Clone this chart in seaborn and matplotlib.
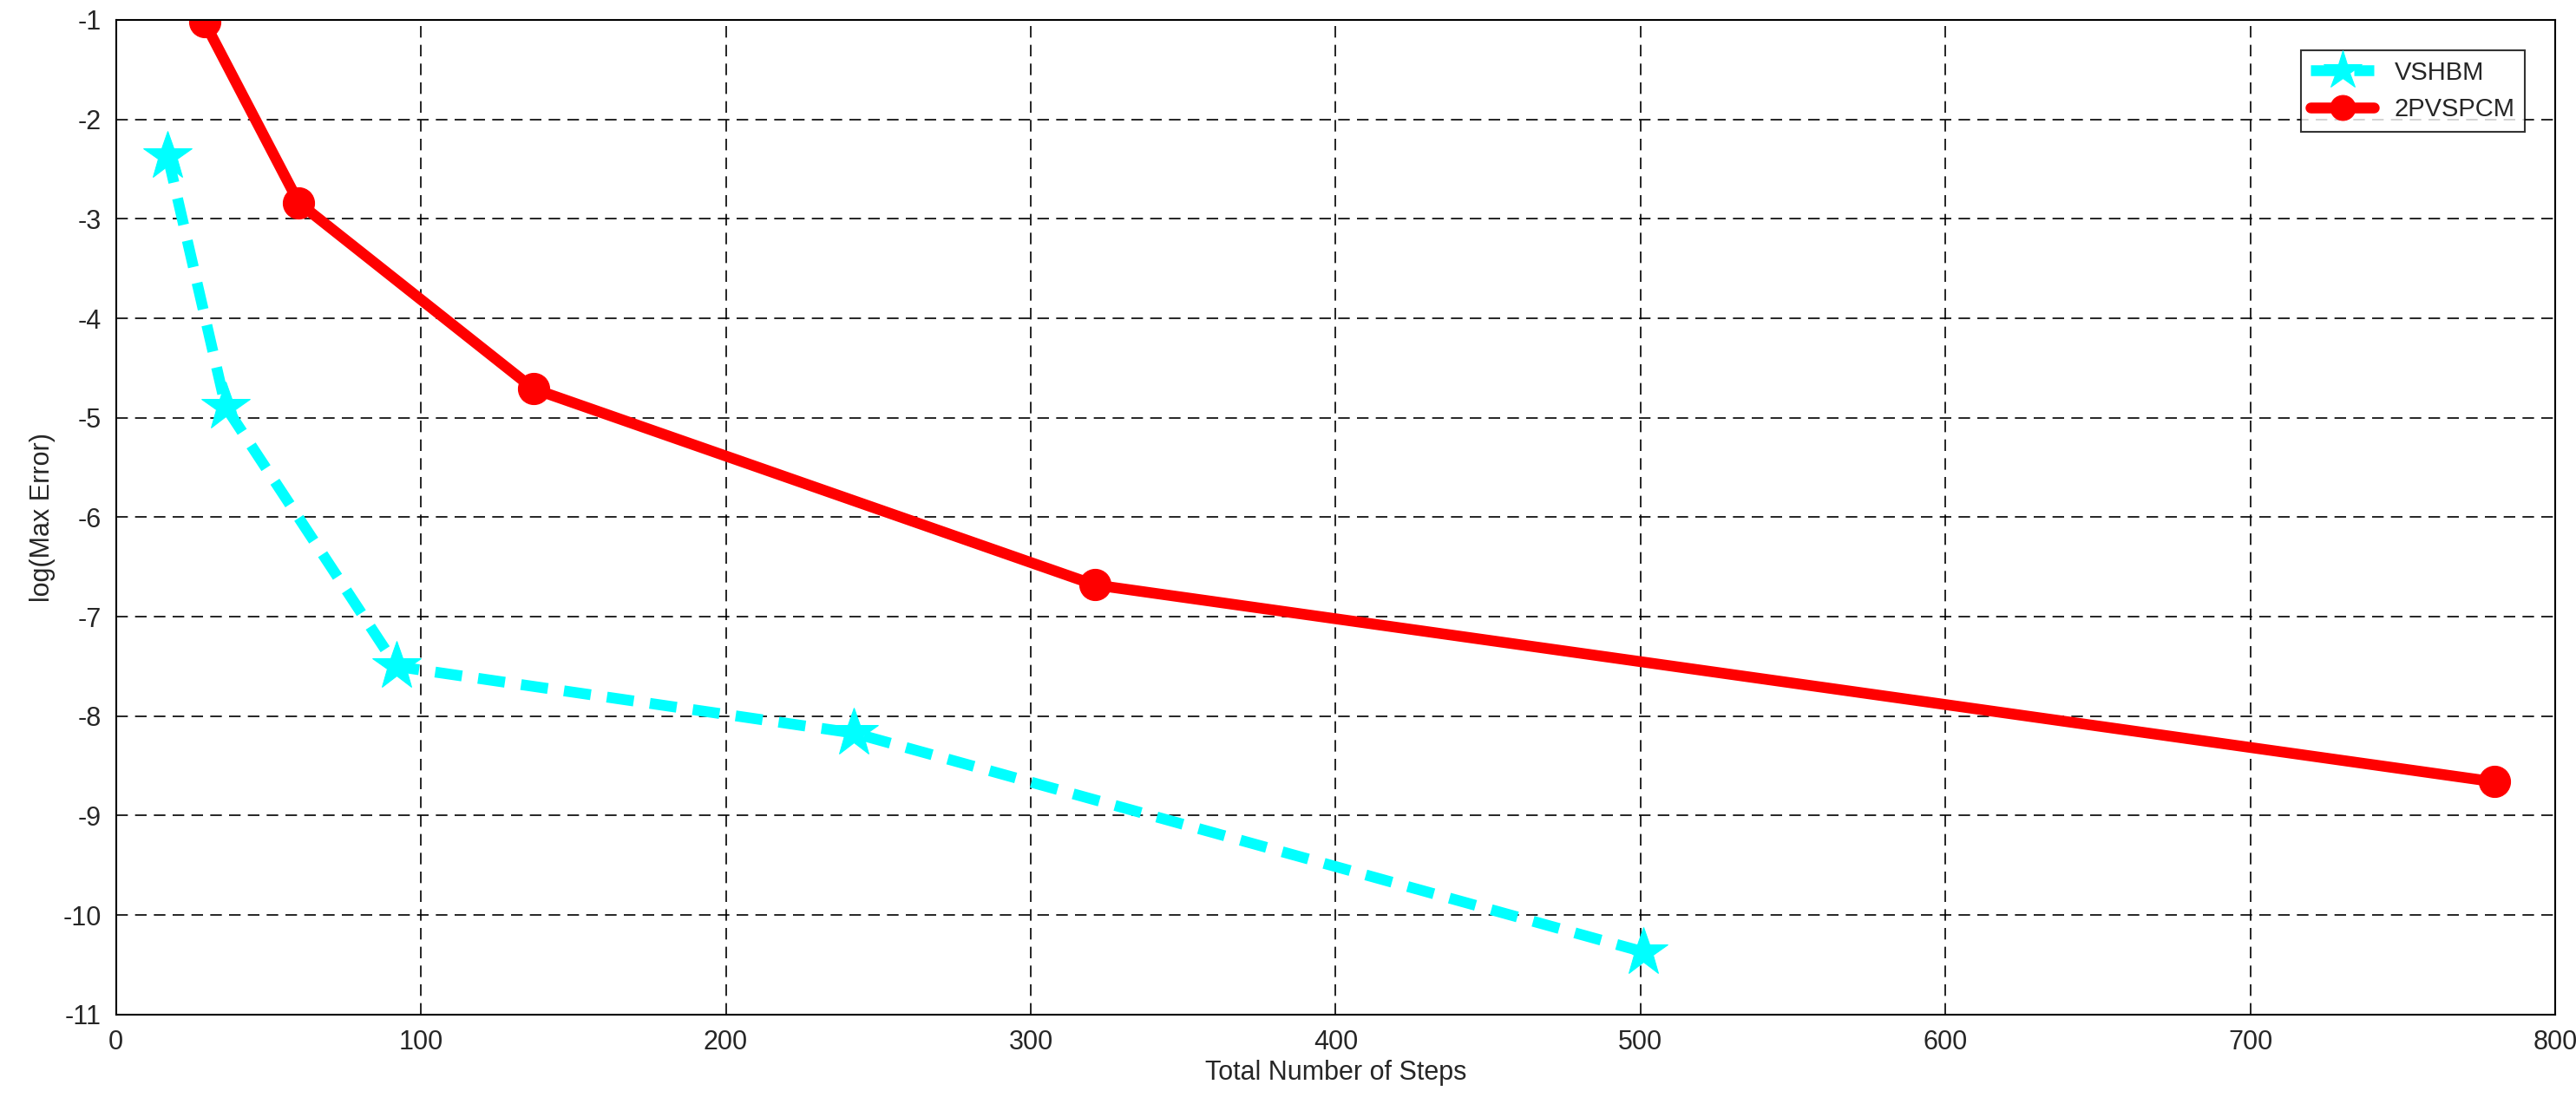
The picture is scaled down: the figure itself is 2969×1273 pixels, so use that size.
import matplotlib
matplotlib.use("Agg")
import matplotlib.pyplot as plt
import seaborn as sns
import pandas as pd

vshbm_x = [17, 36, 92, 242, 501]
vshbm_y = [-2.37, -4.89, -7.5, -8.17, -10.37]
pv_x = [29, 60, 137, 321, 780]
pv_y = [-1.02, -2.84, -4.71, -6.68, -8.66]

sns.set_style("white")
plt.rcParams['font.family'] = ['Liberation Sans', 'DejaVu Sans']
plt.rcParams['axes.unicode_minus'] = False
fig = plt.figure(figsize=(29.69, 12.73), dpi=100)
ax = fig.add_axes([0.045, 0.081, 0.947, 0.901])

sns.lineplot(x=vshbm_x, y=vshbm_y, ax=ax, color='#00FFFF', lw=9, ls=(0, (2.5, 1.5)),
             marker='*', markersize=42, markeredgecolor='#00FFFF', label='VSHBM', sort=False)
sns.lineplot(x=pv_x, y=pv_y, ax=ax, color='#FF0000', lw=9, marker='o',
             markersize=26, markeredgecolor='#FF0000', label='2PVSPCM', sort=False)

ax.set_xlim(0, 800)
ax.set_ylim(-11, -1)
ax.set_xticks(range(0, 801, 100))
ax.set_yticks(range(-11, 0))
ax.grid(True, color='black', ls=(0, (8, 5)), lw=1.2)
ax.tick_params(labelsize=22, direction='in', length=8, pad=12)
for s in ax.spines.values():
    s.set_color('black'); s.set_linewidth(1.5)
ax.set_xlabel('Total Number of Steps', fontsize=22, labelpad=4)
ax.set_ylabel('log(Max Error)', fontsize=22, labelpad=6)
leg = ax.legend(loc='upper right', fontsize=21, fancybox=False, edgecolor='black',
                handlelength=2.5, borderaxespad=1.2, markerscale=0.8)
leg.get_frame().set_linewidth(1.5)
fig.savefig('out.png', dpi=100)
